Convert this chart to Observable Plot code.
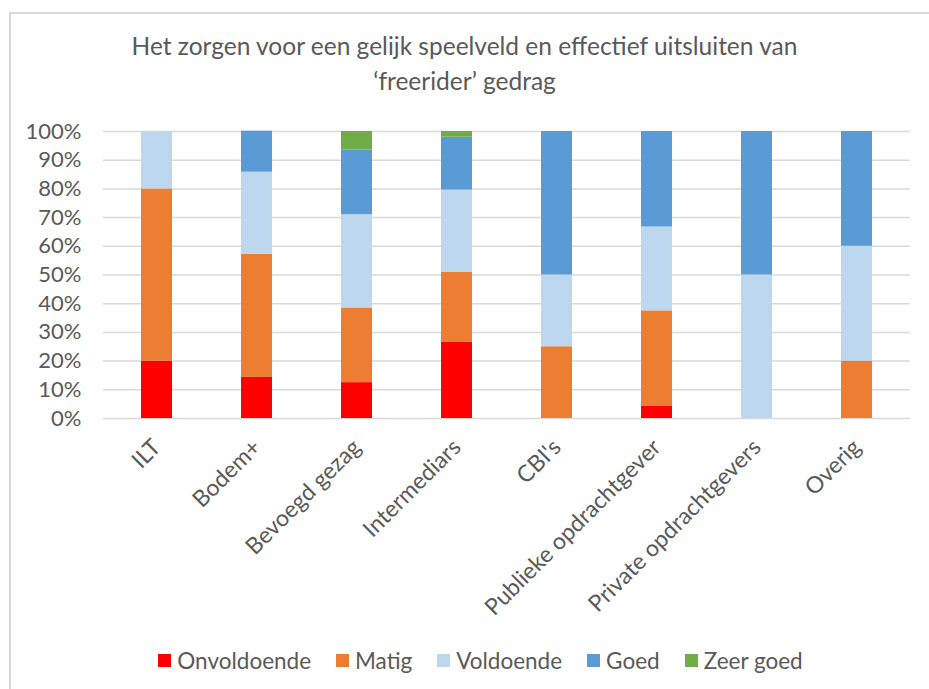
<!DOCTYPE html>
<html>
<head>
<meta charset="utf-8">
<script src="https://cdn.jsdelivr.net/npm/d3@7"></script>
<script src="https://cdn.jsdelivr.net/npm/@observablehq/plot@0.6"></script>
<style>
  html, body { margin: 0; padding: 0; background: #fff; overflow: hidden; }
  body { width: 929px; height: 689px; position: relative; font-family: Lato, "Open Sans", sans-serif; color: #595959; }
  #frame { position: absolute; left: 9px; top: 12px; width: 1000px; height: 1000px; border: 2px solid #d9d9d9; box-sizing: border-box; pointer-events: none; }
  #title { height: 110px; box-sizing: border-box; padding-top: 28px; text-align: center; font-size: 24.5px; line-height: 35px; color: #595959; }
  #legend { height: 59px; box-sizing: border-box; padding-top: 2px; padding-left: 32px; display: flex; justify-content: center; gap: 25px; font-size: 22.5px; line-height: 24px; color: #595959; }
  #legend .item { display: flex; align-items: center; gap: 6px; }
  #legend .sw { width: 13px; height: 13px; display: inline-block; }
  svg { display: block; }
</style>
</head>
<body>
<div id="frame"></div>
<div id="title">Het zorgen voor een gelijk speelveld en effectief uitsluiten van<br>‘freerider’ gedrag</div>
<div id="chart"></div>
<div id="legend"></div>
<script>
const categories = ["ILT", "Bodem+", "Bevoegd gezag", "Intermediars", "CBI's", "Publieke opdrachtgever", "Private opdrachtgevers", "Overig"];
const seriesNames = ["Onvoldoende", "Matig", "Voldoende", "Goed", "Zeer goed"];
const seriesColors = ["#FF0000", "#ED7D31", "#BDD7EE", "#5B9BD5", "#70AD47"];
const onvoldoende = [20, 14.3, 12.5, 26.5, 0, 4.2, 0, 0];
const matig       = [60, 42.9, 26, 24.5, 25, 33.3, 0, 20];
const voldoende   = [20, 28.6, 32.5, 28.6, 25, 29.2, 50, 40];
const goed        = [0, 14.3, 22.5, 18.4, 50, 33.3, 50, 40];
const zeerGoed    = [0, 0, 6.5, 2.0, 0, 0, 0, 0];
const yTicks = [0, 10, 20, 30, 40, 50, 60, 70, 80, 90, 100];

const seriesValues = [onvoldoende, matig, voldoende, goed, zeerGoed];
const data = [];
seriesValues.forEach((vals, s) => {
  vals.forEach((v, i) => data.push({category: categories[i], series: seriesNames[s], value: v}));
});

const chart = Plot.plot({
  width: 929,
  height: 520,
  marginLeft: 103,
  marginRight: 19,
  marginTop: 21,
  marginBottom: 212,
  style: {fontFamily: "Lato, 'Open Sans', sans-serif", fontSize: "20px", color: "#595959", background: "transparent"},
  x: {domain: categories, paddingInner: 0.69, paddingOuter: 0.345, label: null},
  y: {domain: [0, 100], label: null},
  color: {domain: seriesNames, range: seriesColors},
  marks: [
    Plot.gridY(yTicks, {stroke: "#d9d9d9", strokeOpacity: 1, strokeWidth: 1.5}),
    Plot.barY(data, Plot.stackY({order: seriesNames}, {x: "category", y: "value", fill: "series"})),
    Plot.axisY(yTicks, {tickSize: 0, tickPadding: 22, tickFormat: d => d + "%", fontSize: 22, fill: "#595959", label: null}),
    Plot.axisX({tickSize: 0, tickPadding: 25, tickRotate: -45, fontSize: 23, fill: "#595959", label: null})
  ]
});
document.getElementById("chart").appendChild(chart);

const legend = document.getElementById("legend");
seriesNames.forEach((name, i) => {
  const item = document.createElement("div");
  item.className = "item";
  const sw = document.createElement("span");
  sw.className = "sw";
  sw.style.background = seriesColors[i];
  const label = document.createElement("span");
  label.textContent = name;
  item.appendChild(sw);
  item.appendChild(label);
  legend.appendChild(item);
});
</script>
</body>
</html>
